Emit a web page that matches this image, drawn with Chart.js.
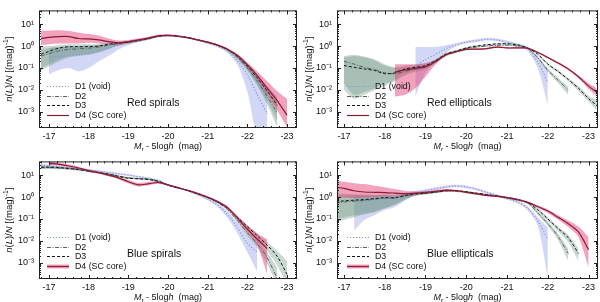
<!DOCTYPE html>
<html>
<head>
<meta charset="utf-8">
<script src="https://cdn.jsdelivr.net/npm/chart.js@4.4.1/dist/chart.umd.min.js"></script>
<style>
  html, body { margin: 0; padding: 0; background: #fff; }
  #wrap { position: relative; width: 600px; height: 302px; }
  #wrap canvas { position: absolute; }
</style>
</head>
<body>
<div id="wrap">
  <canvas id="c1" width="300" height="151" style="left:0;top:0"></canvas>
  <canvas id="c2" width="300" height="151" style="left:300px;top:0"></canvas>
  <canvas id="c3" width="300" height="151" style="left:0;top:151px"></canvas>
  <canvas id="c4" width="300" height="151" style="left:300px;top:151px"></canvas>
</div>
<script>
// magnitude grid shared by all curves
const MAG = [-16.8,-17,-17.25,-17.5,-17.75,-18,-18.25,-18.5,-18.75,-19,-19.25,-19.5,-19.75,-20,-20.25,-20.5,-20.75,-21,-21.25,-21.5,-21.75,-22,-22.25,-22.5,-22.75,-23,-23.2];
const X_TICKS = [-17,-18,-19,-20,-21,-22,-23];
const Y_TICKS = [1e-3,1e-2,1e-1,1,10];
const Y_LABELS = ['10⁻³','10⁻²','10⁻¹','10⁰','10¹'];
const LEGEND = ['D1 (void)','D2','D3','D4 (SC core)'];

// Red spirals
const rsD1   = [null,0.3,0.35,0.35,0.4,0.45,0.6,0.8,1.1,1.4,1.7,2.1,2.7,3.0,2.8,2.4,1.9,1.4,1.0,0.58,0.21,0.05,0.006,0.0008,null,null,null];
const rsD1Hi = [null,0.8,0.9,0.95,1.0,1.0,1.1,1.2,1.4,1.6,1.9,2.3,2.9,3.2,3.0,2.6,2.05,1.55,1.1,0.68,0.3,0.12,0.04,0.01,null,null,null];
const rsD1Lo = [null,0.05,0.08,0.1,0.07,0.1,0.2,0.35,0.7,1.1,1.5,1.9,2.5,2.8,2.6,2.2,1.75,1.25,0.88,0.48,0.14,0.008,0.0001,0.0001,null,null,null];
const rsD2   = [0.35,0.45,0.6,0.7,0.75,0.8,0.9,1.1,1.3,1.5,1.8,2.2,2.8,3.0,2.8,2.4,1.9,1.5,1.1,0.68,0.3,0.1,0.025,0.005,0.0009,null,null];
const rsD2Hi = [0.7,0.8,0.9,1.0,1.0,1.05,1.1,1.3,1.5,1.65,1.95,2.35,2.95,3.15,2.95,2.55,2.0,1.6,1.17,0.74,0.35,0.13,0.04,0.011,0.003,null,null];
const rsD2Lo = [0.1,0.15,0.25,0.35,0.4,0.45,0.55,0.8,1.05,1.3,1.6,2.0,2.6,2.8,2.6,2.2,1.75,1.4,1.0,0.6,0.25,0.075,0.015,0.0022,0.0002,null,null];
const rsD3   = [0.42,0.57,0.8,0.93,0.93,0.95,1.0,1.2,1.4,1.5,1.8,2.2,2.8,3.0,2.8,2.4,1.9,1.5,1.1,0.7,0.34,0.12,0.035,0.009,0.002,null,null];
const rsD3Hi = [0.9,1.0,1.1,1.2,1.2,1.2,1.25,1.4,1.6,1.7,2.0,2.4,3.0,3.2,3.0,2.6,2.05,1.6,1.2,0.76,0.39,0.15,0.05,0.015,0.005,null,null];
const rsD3Lo = [0.08,0.12,0.2,0.3,0.35,0.4,0.5,0.7,1.1,1.3,1.6,2.0,2.6,2.8,2.6,2.2,1.75,1.4,1.0,0.6,0.27,0.08,0.018,0.003,0.0004,null,null];
const rsD4   = [2.2,2.5,2.7,2.7,2.2,2.1,1.9,1.6,1.4,1.6,1.9,2.3,2.9,3.1,2.8,2.4,1.9,1.5,1.1,0.72,0.37,0.14,0.045,0.012,0.0033,0.0007,null];
const rsD4Hi = [5.0,5.0,5.2,4.8,4.0,3.5,3.0,2.2,1.8,1.9,2.2,2.6,3.3,3.5,3.1,2.6,2.1,1.65,1.2,0.8,0.43,0.18,0.07,0.025,0.009,0.004,null];
const rsD4Lo = [1.1,1.2,1.3,1.3,1.3,1.4,1.3,1.2,1.1,1.35,1.6,2.0,2.5,2.7,2.5,2.2,1.7,1.35,1.0,0.64,0.31,0.11,0.03,0.006,0.0012,0.0002,null];

// Red ellipticals
const reD1   = [null,null,null,null,null,null,null,null,0.12,0.24,0.42,0.77,1.14,1.5,1.75,2.05,1.9,1.5,1.14,0.77,0.19,0.022,null,null,null,null,null];
const reD1Hi = [null,null,null,null,null,null,null,null,0.9,0.9,0.9,1.1,1.35,1.75,2.05,2.35,2.2,1.75,1.35,0.95,0.3,0.08,null,null,null,null,null];
const reD1Lo = [null,null,null,null,null,null,null,null,0.005,0.06,0.2,0.5,0.95,1.3,1.5,1.8,1.65,1.3,0.95,0.6,0.1,0.002,null,null,null,null,null];
const reD2   = [null,0.2,0.15,0.107,0.085,0.06,0.055,0.07,0.09,0.11,0.19,0.38,0.55,0.75,0.9,1.0,1.08,1.1,1.0,0.8,0.3,0.08,0.028,0.01,null,null,null];
const reD2Hi = [null,0.3,0.35,0.3,0.22,0.13,0.1,0.11,0.12,0.14,0.23,0.44,0.62,0.83,0.98,1.08,1.16,1.18,1.08,0.86,0.34,0.095,0.036,0.014,null,null,null];
const reD2Lo = [null,0.02,0.006,0.008,0.012,0.02,0.025,0.045,0.065,0.085,0.16,0.33,0.49,0.68,0.83,0.93,1.0,1.02,0.93,0.74,0.26,0.066,0.021,0.006,null,null,null];
const reD3   = [null,0.13,0.107,0.091,0.077,0.055,0.06,0.09,0.107,0.127,0.22,0.43,0.59,0.82,1.0,1.14,1.26,1.26,1.14,0.82,0.43,0.15,0.07,0.03,0.012,0.004,0.002];
const reD3Hi = [null,0.35,0.4,0.33,0.25,0.15,0.11,0.13,0.14,0.16,0.26,0.5,0.66,0.9,1.08,1.22,1.35,1.35,1.22,0.88,0.47,0.17,0.08,0.035,0.015,0.0055,0.0035];
const reD3Lo = [null,0.01,0.004,0.006,0.01,0.015,0.03,0.055,0.075,0.1,0.18,0.37,0.53,0.75,0.93,1.06,1.17,1.17,1.06,0.76,0.39,0.13,0.06,0.025,0.009,0.003,0.0012];
const reD4   = [null,null,null,null,null,null,0.065,0.082,0.097,0.115,0.2,0.4,0.55,0.7,0.72,0.77,0.9,0.82,0.82,0.8,0.52,0.3,0.17,0.09,0.04,0.015,0.008];
const reD4Hi = [null,null,null,null,null,null,0.15,0.15,0.15,0.17,0.24,0.45,0.6,0.76,0.78,0.83,0.97,0.89,0.88,0.86,0.57,0.33,0.19,0.1,0.047,0.02,0.012];
const reD4Lo = [null,null,null,null,null,null,0.005,0.006,0.012,0.04,0.15,0.35,0.5,0.64,0.66,0.71,0.83,0.75,0.76,0.74,0.47,0.27,0.15,0.08,0.034,0.011,0.005];

// Blue spirals
const bsD1   = [29,26,23,20,18,17,15,13,11.5,10,8.5,7.2,5.8,3.6,2.6,1.95,1.3,0.82,0.43,0.16,0.04,0.008,0.003,null,null,null,null];
const bsD1Hi = [33,30,26,23,20,19,17,14.5,12.5,11,9.3,7.9,6.3,3.9,2.8,2.1,1.45,0.95,0.52,0.22,0.07,0.02,0.008,null,null,null,null];
const bsD1Lo = [25,22,20,17.5,16,15,13.5,11.5,10.5,9,7.7,6.5,5.3,3.3,2.4,1.8,1.15,0.7,0.35,0.11,0.022,0.003,0.0004,null,null,null,null];
const bsD2   = [22,22,21,20,18,15.5,13,11,9,7.5,7,6.5,5.3,3.5,2.6,2.0,1.4,0.95,0.57,0.27,0.085,0.023,0.0075,0.0017,0.0002,null,null];
const bsD2Hi = [25,25,24,22,20,17,14,12,9.8,8.1,7.5,7,5.6,3.7,2.75,2.1,1.5,1.02,0.62,0.3,0.1,0.03,0.011,0.003,0.0006,null,null];
const bsD2Lo = [19,19.5,18.5,18,16,14,12,10,8.2,6.9,6.5,6,5,3.3,2.45,1.9,1.3,0.88,0.52,0.24,0.07,0.017,0.005,0.0009,0.0001,null,null];
const bsD3   = [23,23,22,20,18,15,13,11,8.8,7.2,6.8,6.3,5.2,3.5,2.6,2.0,1.4,0.97,0.6,0.31,0.12,0.045,0.017,0.0064,0.002,0.0003,null];
const bsD3Hi = [27,26,25,22.5,20,16.5,14,12,9.6,7.8,7.3,6.7,5.5,3.7,2.75,2.1,1.5,1.03,0.65,0.34,0.135,0.053,0.022,0.009,0.0035,0.0012,null];
const bsD3Lo = [19,20,19.5,18,16,13.5,12,10,8,6.6,6.3,5.9,4.9,3.3,2.45,1.9,1.3,0.91,0.55,0.28,0.1,0.035,0.011,0.0035,0.0008,0.0001,null];
const bsD4   = [null,34,31,26,21,16,13,10,7.5,5.0,3.6,4.0,4.6,3.6,2.7,2.0,1.45,0.98,0.62,0.33,0.11,0.034,0.012,0.0045,null,null,null];
const bsD4Hi = [null,40,36,30,24,18,14.5,11.5,8.5,6.0,4.4,4.8,5.3,3.9,2.9,2.15,1.6,1.1,0.7,0.38,0.14,0.05,0.022,0.012,null,null,null];
const bsD4Lo = [null,29,27,22,18,14,11.5,8.8,6.5,4.2,3.0,3.4,4.0,3.3,2.5,1.85,1.3,0.87,0.55,0.28,0.085,0.023,0.006,0.0003,null,null,null];

// Blue ellipticals
const beD1   = [null,null,0.7,0.75,0.8,0.85,0.9,1.2,1.5,1.93,2.4,2.9,3.2,2.9,2.3,1.64,1.2,0.85,0.61,0.32,0.085,0.012,null,null,null,null,null];
const beD1Hi = [null,null,1.2,1.2,1.2,1.2,1.3,1.6,1.9,2.3,2.8,3.3,3.6,3.3,2.6,1.85,1.35,0.95,0.7,0.38,0.12,0.04,null,null,null,null,null];
const beD1Lo = [null,null,0.03,0.09,0.15,0.25,0.35,0.7,1.15,1.6,2.0,2.5,2.8,2.5,2.0,1.45,1.05,0.75,0.52,0.25,0.05,0.0002,null,null,null,null,null];
const beD2   = [0.55,0.6,0.65,0.7,0.8,0.9,0.9,1.1,1.35,1.45,1.65,1.9,1.9,1.7,1.45,1.25,1.08,0.92,0.75,0.55,0.19,0.061,0.016,0.0027,null,null,null];
const beD2Hi = [1.2,1.2,1.2,1.15,1.15,1.2,1.1,1.3,1.5,1.6,1.8,2.05,2.05,1.85,1.57,1.35,1.17,1.0,0.82,0.6,0.23,0.075,0.022,0.0045,null,null,null];
const beD2Lo = [0.1,0.12,0.15,0.18,0.22,0.32,0.45,0.75,1.15,1.3,1.5,1.75,1.75,1.55,1.33,1.15,0.99,0.84,0.68,0.5,0.16,0.048,0.011,0.0012,null,null,null];
const beD3   = [0.61,0.67,0.72,0.77,0.85,0.94,0.94,1.18,1.4,1.5,1.7,1.93,1.93,1.75,1.5,1.3,1.1,0.94,0.77,0.57,0.27,0.1,0.037,0.014,0.0027,null,null];
const beD3Hi = [1.4,1.4,1.35,1.3,1.25,1.3,1.2,1.35,1.55,1.65,1.85,2.1,2.1,1.9,1.62,1.4,1.2,1.02,0.84,0.62,0.31,0.12,0.045,0.019,0.0045,null,null];
const beD3Lo = [0.07,0.09,0.12,0.16,0.2,0.3,0.45,0.8,1.2,1.35,1.55,1.77,1.77,1.6,1.38,1.2,1.0,0.86,0.7,0.52,0.23,0.08,0.028,0.009,0.0012,null,null];
const beD4   = [2.7,2.5,1.93,1.7,1.64,1.6,1.5,1.4,1.5,1.64,1.8,2.06,1.93,1.64,1.4,1.18,1.1,0.94,0.77,0.57,0.37,0.23,0.12,0.061,0.026,0.004,null];
const beD4Hi = [5.2,5.0,4.3,3.9,3.3,2.8,2.3,1.9,1.85,1.9,2.05,2.3,2.15,1.8,1.55,1.3,1.2,1.03,0.85,0.63,0.42,0.27,0.15,0.085,0.045,0.015,null];
const beD4Lo = [1.0,0.95,0.9,0.95,1.0,1.05,1.1,1.1,1.2,1.4,1.55,1.8,1.7,1.48,1.26,1.06,1.0,0.85,0.69,0.51,0.32,0.19,0.095,0.043,0.015,0.0006,null];

const FONT = '"Liberation Sans", Arial, Helvetica, sans-serif';
const LINE = {
    d1: { color: '#8696de', dash: [1.2, 1.8], width: 1.2 },
    d2: { color: '#55655d', dash: [4, 1.5, 1, 1.5], width: 1 },
    d3: { color: '#151515', dash: [3, 2], width: 1 },
    d4: { color: '#8a1b32', dash: [], width: 1.2 }
};
const BAND = {
    d1: 'rgba(145,156,232,0.4)',
    d2: 'rgba(105,148,128,0.36)',
    d3: 'rgba(105,148,128,0.36)',
    d4: 'rgba(228,60,115,0.48)'
};

const PANELS = [
    { id: 'c1', name: 'Red spirals', xMin: -23.25, xMax: -16.75, yw: 39, pr: 3, thickKey: false,
      s: { d1: [rsD1, rsD1Hi, rsD1Lo], d2: [rsD2, rsD2Hi, rsD2Lo], d3: [rsD3, rsD3Hi, rsD3Lo], d4: [rsD4, rsD4Hi, rsD4Lo] } },
    { id: 'c2', name: 'Red ellipticals', xMin: -23.23, xMax: -16.83, yw: 37, pr: 2, thickKey: false,
      s: { d1: [reD1, reD1Hi, reD1Lo], d2: [reD2, reD2Hi, reD2Lo], d3: [reD3, reD3Hi, reD3Lo], d4: [reD4, reD4Hi, reD4Lo] } },
    { id: 'c3', name: 'Blue spirals', xMin: -23.25, xMax: -16.75, yw: 39, pr: 3, thickKey: true,
      s: { d1: [bsD1, bsD1Hi, bsD1Lo], d2: [bsD2, bsD2Hi, bsD2Lo], d3: [bsD3, bsD3Hi, bsD3Lo], d4: [bsD4, bsD4Hi, bsD4Lo] } },
    { id: 'c4', name: 'Blue ellipticals', xMin: -23.23, xMax: -16.83, yw: 37, pr: 2, thickKey: true,
      s: { d1: [beD1, beD1Hi, beD1Lo], d2: [beD2, beD2Hi, beD2Lo], d3: [beD3, beD3Hi, beD3Lo], d4: [beD4, beD4Hi, beD4Lo] } }
];

function pts(arr) {
    return MAG.map((m, i) => ({ x: m, y: arr[i] }));
}

function richText(ctx, parts, x, y, size) {
    const fonts = parts.map(p => (p.it ? 'italic ' : '') + ((p.sub || p.sup) ? size * 0.72 : size) + 'px ' + FONT);
    let total = 0;
    const widths = parts.map((p, i) => {
        ctx.font = fonts[i];
        const w = ctx.measureText(p.t).width;
        total += w;
        return w;
    });
    let cx = x - total / 2;
    ctx.textAlign = 'left';
    ctx.textBaseline = 'alphabetic';
    parts.forEach((p, i) => {
        ctx.font = fonts[i];
        const dy = p.sub ? size * 0.3 : (p.sup ? -size * 0.42 : 0);
        ctx.fillText(p.t, cx, y + dy);
        cx += widths[i];
    });
}

const X_TITLE = [{ t: 'M', it: true }, { t: 'r', sub: true }, { t: ' - 5log' }, { t: 'h', it: true }, { t: '  (mag)' }];
const Y_TITLE = [{ t: 'n', it: true }, { t: '(' }, { t: 'L', it: true }, { t: ')/' }, { t: 'N', it: true }, { t: ' [(mag)' }, { t: '-1', sup: true }, { t: ']' }];

// frame with inward ticks on all sides, axis titles, legend and panel name
const decorPlugin = {
    id: 'decor',
    afterDatasetsDraw(chart, args, opts) {
        const ctx = chart.ctx;
        const a = chart.chartArea;
        ctx.save();
        const rows = [-42, -32.5, -23, -13.5];
        ['d1', 'd2', 'd3', 'd4'].forEach((k, i) => {
            const y = Math.round(a.bottom + rows[i]) + 0.5;
            if (k === 'd4' && opts.thickKey) {
                ctx.setLineDash([]);
                ctx.strokeStyle = BAND.d4;
                ctx.lineWidth = 4;
                ctx.beginPath(); ctx.moveTo(47, y); ctx.lineTo(69, y); ctx.stroke();
            }
            ctx.setLineDash(LINE[k].dash);
            ctx.strokeStyle = LINE[k].color;
            ctx.lineWidth = LINE[k].width;
            ctx.beginPath(); ctx.moveTo(47, y); ctx.lineTo(69, y); ctx.stroke();
            ctx.setLineDash([]);
            ctx.fillStyle = '#111';
            ctx.font = '8.8px ' + FONT;
            ctx.textAlign = 'left';
            ctx.textBaseline = 'middle';
            ctx.fillText(LEGEND[i], 75, y);
        });
        ctx.font = '10.5px ' + FONT;
        ctx.fillStyle = '#111';
        ctx.textBaseline = 'middle';
        ctx.fillText(opts.name, 127, a.top + 93);
        ctx.restore();
    },
    afterDraw(chart) {
        const ctx = chart.ctx;
        const a = chart.chartArea;
        const xs = chart.scales.x;
        const ys = chart.scales.y;
        ctx.save();
        ctx.strokeStyle = '#222';
        ctx.lineWidth = 1;
        ctx.setLineDash([]);
        ctx.strokeRect(a.left + 0.5, a.top + 0.5, a.right - a.left - 1, a.bottom - a.top - 1);
        ctx.beginPath();
        for (let k = Math.ceil(-xs.max * 5); k <= Math.floor(-xs.min * 5); k++) {
            const len = k % 5 === 0 ? 4 : 2;
            const px = Math.round(xs.getPixelForValue(-k / 5)) + 0.5;
            ctx.moveTo(px, a.bottom); ctx.lineTo(px, a.bottom - len);
            ctx.moveTo(px, a.top); ctx.lineTo(px, a.top + len);
        }
        for (let e = -4; e <= 1; e++) {
            for (let m = 1; m <= 9; m++) {
                const v = m * Math.pow(10, e);
                if (v < ys.min || v > ys.max) continue;
                const len = m === 1 ? 4 : 2;
                const py = Math.round(ys.getPixelForValue(v)) + 0.5;
                ctx.moveTo(a.left, py); ctx.lineTo(a.left + len, py);
                ctx.moveTo(a.right, py); ctx.lineTo(a.right - len, py);
            }
        }
        ctx.stroke();
        // axis titles
        ctx.fillStyle = '#111';
        richText(ctx, X_TITLE, (a.left + a.right) / 2, a.bottom + 21, 9);
        ctx.translate(12, (a.top + a.bottom) / 2);
        ctx.rotate(-Math.PI / 2);
        richText(ctx, Y_TITLE, 0, 0, 9.5);
        ctx.restore();
    }
};

function makeChart(p) {
    const ds = [];
    ['d1', 'd2', 'd3', 'd4'].forEach(k => {
        ds.push({ data: pts(p.s[k][1]), fill: '+1', backgroundColor: BAND[k], borderWidth: 0, pointRadius: 0, tension: 0.3 });
        ds.push({ data: pts(p.s[k][2]), fill: false, borderWidth: 0, pointRadius: 0, tension: 0.3 });
    });
    ['d1', 'd2', 'd3', 'd4'].forEach(k => {
        ds.push({ data: pts(p.s[k][0]), fill: false, borderColor: LINE[k].color, borderDash: LINE[k].dash,
                  borderWidth: LINE[k].width, pointRadius: 0, tension: 0.3 });
    });
    // first dataset is drawn on top in Chart.js, so give later entries a lower order
    ds.forEach((d, i) => { d.order = ds.length - i; });

    return new Chart(document.getElementById(p.id), {
        type: 'line',
        data: { datasets: ds },
        plugins: [decorPlugin],
        options: {
            responsive: false,
            animation: false,
            events: [],
            layout: { padding: { top: 2, right: p.pr, left: 0, bottom: 0 }, autoPadding: false },
            plugins: {
                legend: { display: false },
                tooltip: { enabled: false },
                decor: { name: p.name, thickKey: p.thickKey }
            },
            scales: {
                x: {
                    type: 'linear', min: p.xMin, max: p.xMax, reverse: true,
                    afterBuildTicks: s => { s.ticks = X_TICKS.map(v => ({ value: v })); },
                    afterFit: s => { s.height = 23; },
                    grid: { display: false, drawTicks: false },
                    border: { display: false },
                    ticks: { callback: v => String(v), color: '#111', font: { family: FONT, size: 9 }, padding: 3, maxRotation: 0, autoSkip: false }
                },
                y: {
                    type: 'logarithmic', min: 1.85e-4, max: 42,
                    afterBuildTicks: s => { s.ticks = Y_TICKS.map(v => ({ value: v })); },
                    afterFit: s => { s.width = p.yw; },
                    grid: { display: false, drawTicks: false },
                    border: { display: false },
                    ticks: { callback: (v, i) => Y_LABELS[i], color: '#111', font: { family: FONT, size: 9 }, padding: 5, autoSkip: false }
                }
            }
        }
    });
}

PANELS.forEach(makeChart);
</script>
</body>
</html>
